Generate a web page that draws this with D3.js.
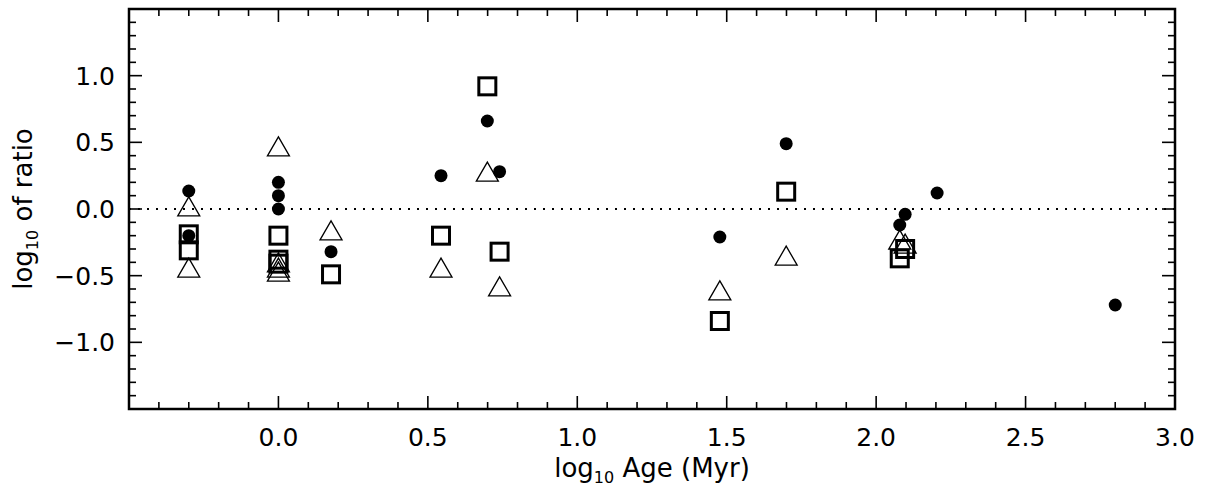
<!DOCTYPE html>
<html>
<head>
  <meta charset="utf-8">
  <title>log ratio vs age</title>
  <style>
    body { margin: 0; background: #fff; }
    text { font-family: "DejaVu Sans", sans-serif; fill: #000; }
  </style>
</head>
<body>
  <div id="plot"></div>
  <script src="https://cdn.jsdelivr.net/npm/d3@7/dist/d3.min.js"></script>
  <script>
    // filled circles
    let circX = [-0.30, -0.30, 0.0, 0.0, 0.0, 0.176, 0.544, 0.699, 0.74, 1.477, 1.699, 2.079, 2.097, 2.204, 2.80];
    let circY = [0.135, -0.20, 0.20, 0.10, 0.0, -0.32, 0.25, 0.66, 0.28, -0.21, 0.49, -0.12, -0.04, 0.12, -0.72];
    // open triangles
    let triX = [-0.30, -0.30, 0.0, 0.0, 0.0, 0.0, 0.176, 0.544, 0.699, 0.74, 1.477, 1.699, 2.079, 2.097];
    let triY = [0.02, -0.44, 0.47, -0.40, -0.44, -0.47, -0.16, -0.44, 0.28, -0.58, -0.61, -0.35, -0.23, -0.26];
    // open squares
    let sqX = [-0.30, -0.30, 0.0, 0.0, 0.0, 0.176, 0.544, 0.699, 0.74, 1.477, 1.699, 2.079, 2.097];
    let sqY = [-0.19, -0.31, -0.20, -0.38, -0.41, -0.49, -0.20, 0.92, -0.32, -0.84, 0.13, -0.37, -0.30];

    let xTicks = [0.0, 0.5, 1.0, 1.5, 2.0, 2.5, 3.0];
    let yTicks = [-1.0, -0.5, 0.0, 0.5, 1.0];

    function translate(x, y) {
      return 'translate(' + x + ',' + y + ')';
    }

    let svgWidth = 1213, svgHeight = 491;
    let margin = {top: 9, right: 38, bottom: 82, left: 129};
    let width = svgWidth - margin.left - margin.right;
    let height = svgHeight - margin.top - margin.bottom;

    let svg = d3.select('#plot').append('svg')
      .attr('width', svgWidth).attr('height', svgHeight)
      .append('g').attr('transform', translate(margin.left, margin.top));

    let x = d3.scaleLinear().domain([-0.5, 3.0]).range([0, width]);
    let y = d3.scaleLinear().domain([-1.5, 1.5]).range([height, 0]);

    let fmt = d => d3.format('.1f')(d).replace('-', '\u2212');
    let isMajor = (v, list) => list.some(m => Math.abs(m - v) < 1e-6);
    let xAll = d3.range(-4, 31).map(v => v / 10);
    let yAll = d3.range(-14, 15).map(v => v / 10);

    // inward ticks on all four sides
    let tk = svg.append('g').attr('stroke', '#000').attr('stroke-width', 1.6);
    xAll.forEach(v => {
      let len = isMajor(v, xTicks) ? 13 : 7;
      tk.append('line').attr('x1', x(v)).attr('x2', x(v)).attr('y1', height).attr('y2', height - len);
      tk.append('line').attr('x1', x(v)).attr('x2', x(v)).attr('y1', 0).attr('y2', len);
    });
    yAll.forEach(v => {
      let len = isMajor(v, yTicks) ? 13 : 7;
      tk.append('line').attr('y1', y(v)).attr('y2', y(v)).attr('x1', 0).attr('x2', len);
      tk.append('line').attr('y1', y(v)).attr('y2', y(v)).attr('x1', width).attr('x2', width - len);
    });

    // frame
    svg.append('rect').attr('width', width).attr('height', height)
      .attr('fill', 'none').attr('stroke', '#000').attr('stroke-width', 2.5);

    // tick labels
    svg.append('g').selectAll('text').data(xTicks).join('text')
      .attr('x', d => x(d)).attr('y', height + 37)
      .attr('text-anchor', 'middle').style('font-size', '25px').text(fmt);
    svg.append('g').selectAll('text').data(yTicks).join('text')
      .attr('x', -14).attr('y', d => y(d) + 9)
      .attr('text-anchor', 'end').style('font-size', '25px').text(fmt);

    // zero line
    svg.append('line')
      .attr('x1', 0).attr('x2', width).attr('y1', y(0)).attr('y2', y(0))
      .attr('stroke', '#000').attr('stroke-width', 2).attr('stroke-dasharray', '2,7');

    // axis titles
    let xt = svg.append('text').attr('x', width / 2).attr('y', height + 68)
      .attr('text-anchor', 'middle').style('font-size', '26px');
    xt.append('tspan').text('log');
    xt.append('tspan').attr('dy', 6).style('font-size', '16px').text('10');
    xt.append('tspan').attr('dy', -6).text(' Age (Myr)');

    let yt = svg.append('text')
      .attr('transform', translate(-97, height / 2) + ' rotate(-90)')
      .attr('text-anchor', 'middle').style('font-size', '26px');
    yt.append('tspan').text('log');
    yt.append('tspan').attr('dy', 6).style('font-size', '16px').text('10');
    yt.append('tspan').attr('dy', -6).text(' of ratio');

    // markers
    svg.append('g').selectAll('rect').data(d3.zip(sqX, sqY)).join('rect')
      .attr('x', d => x(d[0]) - 8.5).attr('y', d => y(d[1]) - 8.5)
      .attr('width', 17).attr('height', 17)
      .attr('fill', 'none').attr('stroke', '#000').attr('stroke-width', 3);

    svg.append('g').selectAll('path').data(d3.zip(triX, triY)).join('path')
      .attr('transform', d => translate(x(d[0]), y(d[1])))
      .attr('d', 'M-11,9.5L0,-9.5L11,9.5Z')
      .attr('fill', 'none').attr('stroke', '#000').attr('stroke-width', 1.3);

    svg.append('g').selectAll('circle').data(d3.zip(circX, circY)).join('circle')
      .attr('cx', d => x(d[0])).attr('cy', d => y(d[1])).attr('r', 6.5)
      .attr('fill', '#000');
  </script>
</body>
</html>
